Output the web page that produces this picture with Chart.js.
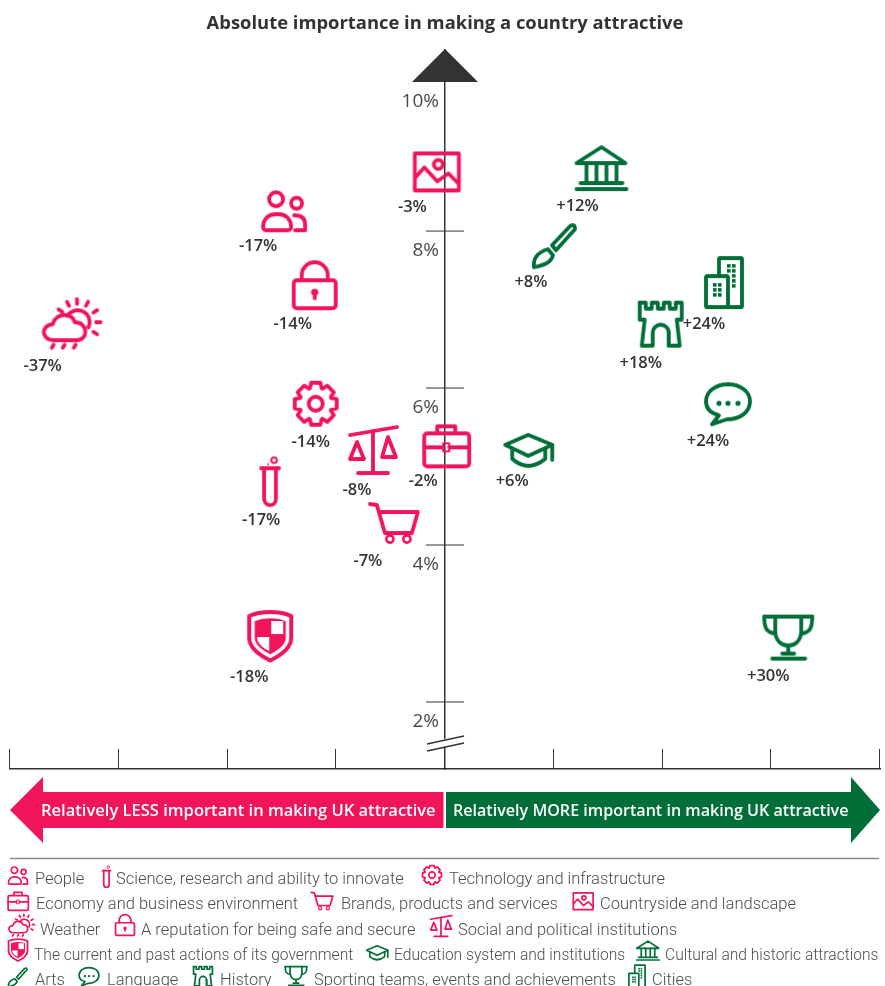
<!DOCTYPE html>
<html>
<head>
<meta charset="utf-8">
<title>Absolute importance in making a country attractive</title>
<script src="https://cdn.jsdelivr.net/npm/chart.js@4"></script>
<style>
    html, body { margin: 0; padding: 0; background: #fff; overflow: hidden; }
    canvas { display: block; }
</style>
</head>
<body>
<canvas id="importance" width="885" height="986"></canvas>
<script>
const categories = [
    'People', 'Science, research and ability to innovate', 'Technology and infrastructure',
    'Economy and business environment', 'Brands, products and services', 'Countryside and landscape',
    'Weather', 'A reputation for being safe and secure', 'Social and political institutions',
    'The current and past actions of its government', 'Education system and institutions', 'Cultural and historic attractions',
    'Arts', 'Language', 'History', 'Sporting teams, events and achievements', 'Cities'
];
const relativeImportance = [-17, -17, -14, -2, -7, -3, -37, -14, -8, -18, 6, 12, 8, 24, 18, 30, 24];
const absoluteImportance = [8.24, 4.80, 5.80, 5.27, 4.28, 8.76, 6.80, 7.31, 5.21, 2.84, 5.20, 8.79, 7.82, 5.78, 6.82, 2.82, 7.35];
const yTicks = [2, 4, 6, 8, 10];
const xTicks = [-40, -30, -20, -10, 0, 10, 20, 30, 40];

// layout only: icon and label offsets from the point, in px
const iconDx = [24, 9, 23, 23, 25, 24, 28, 22, 15, 21, 18, 26, 23, 22, 20, 17, 18];
const labelDx = [-2, 1, 18, 0, -1, 0, 0, 0, -1, 0, 2, 2, -1, 2, 0, -3, -2];
const labelDy = [34, 38, 39, 36, 38, 36, 41, 39, 40, 41, 30, 37, 37, 36, 40, 39, 42];
// legend: [icon x, icon y, text x, text y]
const legendPos = [
    [18, 876, 35, 879], [106, 877, 116, 879], [432, 875, 449, 879],
    [18, 901, 36, 904], [322, 901, 341, 904], [583, 901, 600, 904],
    [21, 926, 40, 930], [125, 925, 141, 930], [441, 926, 458, 930],
    [18, 950, 34, 955], [377, 953, 394, 955], [648, 951, 665, 955],
    [18, 977, 35, 980], [89, 977, 107, 980], [203, 976, 220, 980], [296, 976, 314, 980], [637, 976, 652, 980]
];

const PINK = '#f0145a';
const GREEN = '#006f37';
const DARK = '#333333';

const poly = (c, pts, close) => {
    c.beginPath();
    pts.forEach((p, i) => i ? c.lineTo(p[0], p[1]) : c.moveTo(p[0], p[1]));
    if (close) c.closePath();
    c.stroke();
};
const ring = (c, x, y, r) => { c.beginPath(); c.arc(x, y, r, 0, Math.PI * 2); c.stroke(); };
const dot = (c, x, y, r) => { c.beginPath(); c.arc(x, y, r, 0, Math.PI * 2); c.fill(); };

// one small drawing per category, same order as categories, around 0,0
const icons = [
    // people
    c => {
        ring(c, -8, -13, 7);
        ring(c, 12.5, -9, 5.5);
        c.beginPath(); c.roundRect(-21, 2, 28, 16, [12, 12, 3, 3]); c.stroke();
        c.beginPath(); c.moveTo(10, 3); c.quadraticCurveTo(21, 3, 21, 12); c.lineTo(21, 18); c.lineTo(11, 18); c.stroke();
    },
    // science
    c => {
        poly(c, [[-8, -14], [10, -14]]);
        c.beginPath(); c.moveTo(-5, -14); c.lineTo(-5, 17); c.arc(1, 17, 5.8, Math.PI, 0, true); c.lineTo(6.8, -14); c.stroke();
        c.lineWidth = 2;
        ring(c, 5, -22, 2.8);
        dot(c, -1, -18, 1);
    },
    // technology
    c => {
        c.beginPath();
        for (let i = 0; i < 8; i++) {
            const a = i * Math.PI / 4 - Math.PI / 2;
            const at = (r, d) => [r * Math.cos(a + d), r * Math.sin(a + d)];
            [at(16.5, -0.36), at(21.5, -0.22), at(21.5, 0.22), at(16.5, 0.36)].forEach(p => c.lineTo(p[0], p[1]));
        }
        c.closePath();
        c.stroke();
        ring(c, 0, 0, 7);
    },
    // economy
    c => {
        c.beginPath(); c.roundRect(-22, -12, 45, 33, 3); c.stroke();
        poly(c, [[-9, -13], [-9, -19], [9, -19], [9, -13]]);
        poly(c, [[-22, 2], [-3, 2]]);
        poly(c, [[3, 2], [23, 2]]);
        c.lineWidth = 2;
        c.strokeRect(-3, -2, 6, 8);
    },
    // brands
    c => {
        poly(c, [[-24, -19], [-17, -18], [-9, 10], [18, 10], [24, -11], [-15, -11]]);
        c.lineWidth = 2.6;
        ring(c, -4, 16, 3.6);
        ring(c, 13, 16, 3.6);
    },
    // countryside
    c => {
        c.strokeRect(-21.5, -18, 44, 37);
        ring(c, 2, -7, 4.5);
        poly(c, [[-21, 6], [-12, -4], [1, 10], [12, 2], [22, 12]]);
    },
    // weather
    c => {
        c.beginPath();
        c.moveTo(-16, 15); c.bezierCurveTo(-30, 15, -30, 0, -18, -1);
        c.bezierCurveTo(-15, -13, 2, -13, 4, -3);
        c.bezierCurveTo(18, -3, 18, 15, 6, 15);
        c.closePath();
        c.stroke();
        c.beginPath(); c.arc(7, -3, 12, -2.6, 0.45); c.stroke();
        const rays = [-2.55, -2.05, -1.6, -1.1, -0.55, 0, 0.55];
        rays.forEach(a => poly(c, [[7 + 18.5 * Math.cos(a), -3 + 18.5 * Math.sin(a)], [7 + 23 * Math.cos(a), -3 + 23 * Math.sin(a)]]));
        [-17, -6, 5].forEach(x => poly(c, [[x, 19.5], [x - 1.8, 22.5]]));
    },
    // safe
    c => {
        c.beginPath(); c.roundRect(-21, -5, 42, 28, 3); c.stroke();
        c.beginPath(); c.moveTo(-13, -5); c.lineTo(-13, -10); c.arc(0, -10, 13, Math.PI, 0); c.lineTo(13, -5); c.stroke();
        dot(c, 0, 7, 3.6);
        poly(c, [[0, 8], [0, 13]]);
    },
    // social
    c => {
        poly(c, [[-23, -15], [24, -23]]);
        poly(c, [[0, -19], [0, 23]]);
        poly(c, [[-15, 23], [15, 23]]);
        poly(c, [[-16, -8], [-23, 9], [-9, 9]], true);
        poly(c, [[15, -13], [9, 7], [23, 7]], true);
    },
    // government
    c => {
        const shield = s => {
            c.beginPath();
            c.moveTo(0, -24 * s);
            c.quadraticCurveTo(13 * s, -24 * s, 21 * s, -20 * s);
            c.lineTo(21 * s, 2 * s);
            c.quadraticCurveTo(21 * s, 14 * s, 0, 24.5 * s);
            c.quadraticCurveTo(-21 * s, 14 * s, -21 * s, 2 * s);
            c.lineTo(-21 * s, -20 * s);
            c.quadraticCurveTo(-13 * s, -24 * s, 0, -24 * s);
            c.closePath();
        };
        c.lineWidth = 4;
        shield(1); c.stroke();
        shield(0.74); c.fill();
        c.save();
        c.fillStyle = '#fff';
        c.fillRect(1, -15, 12, 13);
        c.beginPath(); c.moveTo(-13, 1); c.lineTo(-1, 1); c.lineTo(-1, 15); c.quadraticCurveTo(-10, 11, -13, 4); c.closePath(); c.fill();
        c.restore();
    },
    // education
    c => {
        poly(c, [[-23, -6], [0, -16], [24, -6], [0, 5]], true);
        c.beginPath(); c.moveTo(-16, -2); c.lineTo(-16, 8); c.quadraticCurveTo(0, 22, 17, 8); c.lineTo(17, -2); c.stroke();
        poly(c, [[24, -6], [24, 9]]);
    },
    // cultural
    c => {
        poly(c, [[-25, -6], [0, -22], [24, -6]], true);
        [-15, -5, 5, 15].forEach(x => poly(c, [[x, -6], [x, 12]]));
        poly(c, [[-21, 14], [21, 14]]);
        poly(c, [[-25, 20], [25, 20]]);
    },
    // arts
    c => {
        c.beginPath();
        c.moveTo(-3, 0); c.lineTo(15, -19); c.quadraticCurveTo(20, -22, 20, -16); c.lineTo(1, 5); c.closePath();
        c.stroke();
        c.beginPath();
        c.moveTo(-7, 4); c.bezierCurveTo(-18, 7, -22, 14, -21, 22); c.bezierCurveTo(-12, 20, -4, 18, -2, 10); c.closePath();
        c.stroke();
    },
    // language
    c => {
        c.beginPath();
        c.moveTo(-9, 10); c.lineTo(-16, 19); c.lineTo(-1, 14);
        c.bezierCurveTo(12, 14, 22, 7, 22, -4);
        c.bezierCurveTo(22, -14, 12, -21, 0, -21);
        c.bezierCurveTo(-12, -21, -22, -14, -22, -4);
        c.bezierCurveTo(-22, 3, -17, 8, -9, 10);
        c.closePath();
        c.stroke();
        [-9, 0, 10].forEach(x => dot(c, x, -2, 2.6));
    },
    // history
    c => {
        poly(c, [
            [-21, -21], [-15, -21], [-15, -15], [-9, -15], [-9, -21], [-3, -21], [-3, -15], [3, -15], [3, -21],
            [9, -21], [9, -15], [15, -15], [15, -21], [21, -21], [21, -4], [16, -4], [19, 22], [8, 22], [8, 8]
        ]);
        c.beginPath(); c.moveTo(8, 22); c.lineTo(8, 9); c.arc(0, 9, 8, 0, Math.PI, true); c.lineTo(-8, 22); c.lineTo(-19, 22); c.lineTo(-16, -4); c.lineTo(-21, -4); c.lineTo(-21, -21); c.stroke();
    },
    // sporting
    c => {
        poly(c, [[-24, -21], [24, -21]]);
        c.beginPath(); c.moveTo(-13, -21); c.lineTo(-13, -7); c.bezierCurveTo(-13, 4, -6, 8, 0, 8); c.bezierCurveTo(6, 8, 13, 4, 13, -7); c.lineTo(13, -21); c.stroke();
        c.beginPath(); c.moveTo(-24, -21); c.bezierCurveTo(-24, -10, -22, -5, -13, -4); c.stroke();
        c.beginPath(); c.moveTo(24, -21); c.bezierCurveTo(24, -10, 22, -5, 13, -4); c.stroke();
        poly(c, [[0, 8], [0, 16]]);
        poly(c, [[-6, 16], [6, 16]]);
        poly(c, [[-16, 21], [17, 21]]);
    },
    // cities
    c => {
        c.beginPath(); c.roundRect(-5, -24, 23, 49, 1); c.stroke();
        c.beginPath(); c.roundRect(-18, -6, 22, 31, 1); c.fillStyle = '#fff'; c.fill(); c.stroke();
        c.fillStyle = GREEN;
        for (let r = 0; r < 3; r++) {
            for (let k = 0; k < 2; k++) c.fillRect(-11 + k * 5, 1 + r * 5, 3.6, 3.6);
        }
        for (let r = 0; r < 5; r++) {
            c.fillRect(8, -18 + r * 5, 3.6, 3.6);
            if (r < 2) c.fillRect(3, -18 + r * 5, 3.6, 3.6);
        }
    }
];

const colorOf = i => relativeImportance[i] < 0 ? PINK : GREEN;

const drawIcon = (c, i, x, y, s) => {
    c.save();
    c.translate(x, y);
    c.scale(s, s);
    c.strokeStyle = colorOf(i);
    c.fillStyle = colorOf(i);
    c.lineWidth = 3.8;
    c.lineCap = 'round';
    c.lineJoin = 'round';
    icons[i](c);
    c.restore();
};

// canvas point style, icon moved off the centre by its offset
const pointImages = categories.map((name, i) => {
    const img = document.createElement('canvas');
    img.width = 200;
    img.height = 200;
    drawIcon(img.getContext('2d'), i, 100 + iconDx[i], 100, 1);
    return img;
});

const decorations = {
    id: 'decorations',
    afterDraw(chart) {
        const { ctx, scales } = chart;
        const { x, y } = scales;
        const cx = x.getPixelForValue(0);
        const base = y.bottom;
        ctx.save();

        // cross bars and y labels
        ctx.strokeStyle = DARK;
        ctx.lineWidth = 1;
        ctx.fillStyle = '#4a4a4a';
        ctx.font = '19px "Open Sans"';
        ctx.textAlign = 'right';
        ctx.textBaseline = 'middle';
        y.ticks.forEach(t => {
            const py = y.getPixelForValue(t.value);
            if (t.value !== 10) poly(ctx, [[cx - 19, py], [cx + 19, py]]);
            ctx.fillText(t.value + '%', cx - 6, py + (t.value === 10 ? 27 : 20));
        });

        // arrow on top of the value axis
        ctx.fillStyle = DARK;
        ctx.beginPath();
        ctx.moveTo(cx, 49); ctx.lineTo(cx + 33, 82); ctx.lineTo(cx - 33, 82);
        ctx.closePath();
        ctx.fill();

        // axis break
        ctx.fillStyle = '#fff';
        ctx.fillRect(cx - 3, 739, 6, 8);
        ctx.strokeStyle = DARK;
        ctx.lineWidth = 1.4;
        poly(ctx, [[cx - 18, 744], [cx + 19, 736]]);
        poly(ctx, [[cx - 18, 751], [cx + 19, 743]]);

        // upward ticks on the bottom axis
        ctx.lineWidth = 1;
        x.ticks.forEach(t => {
            const px = Math.round(x.getPixelForValue(t.value)) - 0.5;
            poly(ctx, [[px, base - 20], [px, base]]);
        });

        // the two big arrows
        ctx.fillStyle = PINK;
        ctx.beginPath();
        ctx.moveTo(10, 810); ctx.lineTo(43, 777); ctx.lineTo(43, 792); ctx.lineTo(443.5, 792);
        ctx.lineTo(443.5, 828); ctx.lineTo(43, 828); ctx.lineTo(43, 843);
        ctx.closePath();
        ctx.fill();
        ctx.fillStyle = GREEN;
        ctx.beginPath();
        ctx.moveTo(880, 810); ctx.lineTo(851, 777); ctx.lineTo(851, 792); ctx.lineTo(446, 792);
        ctx.lineTo(446, 828); ctx.lineTo(851, 828); ctx.lineTo(851, 843);
        ctx.closePath();
        ctx.fill();
        ctx.fillStyle = '#fff';
        ctx.textAlign = 'left';
        ctx.font = '600 16.55px "Open Sans"';
        ctx.fillText('Relatively LESS important in making UK attractive', 41, 811);
        ctx.font = '600 16.1px "Open Sans"';
        ctx.fillText('Relatively MORE important in making UK attractive', 453, 811);

        // value labels
        const meta = chart.getDatasetMeta(0);
        ctx.fillStyle = DARK;
        ctx.font = '600 16.5px "Open Sans"';
        ctx.textAlign = 'center';
        relativeImportance.forEach((v, i) => {
            const p = meta.data[i];
            ctx.fillText((v > 0 ? '+' : '') + v + '%', p.x + labelDx[i], p.y + labelDy[i]);
        });

        // legend
        ctx.strokeStyle = '#8a8a8a';
        ctx.lineWidth = 1.5;
        poly(ctx, [[10, 858.5], [879, 858.5]]);
        ctx.fillStyle = '#4d4d4d';
        ctx.textAlign = 'left';
        categories.forEach((name, i) => {
            const l = legendPos[i];
            drawIcon(ctx, i, l[0], l[1], 0.45);
            ctx.font = (i >= 9 && i <= 11) ? '300 15.6px Roboto' : '300 16.5px Roboto';
            ctx.fillText(name, l[2], l[3] + 1);
        });
        ctx.restore();
    }
};

new Chart(document.getElementById('importance').getContext('2d'), {
    type: 'scatter',
    data: {
        datasets: [{
            data: relativeImportance.map((v, i) => ({ x: v, y: absoluteImportance[i] })),
            pointStyle: pointImages,
            pointRadius: 10,
            clip: false
        }]
    },
    plugins: [decorations],
    options: {
        responsive: false,
        animation: false,
        layout: { autoPadding: false, padding: { left: 10, right: 5, top: 10, bottom: 217 } },
        plugins: {
            legend: { display: false },
            tooltip: { enabled: false },
            title: {
                display: true,
                text: 'Absolute importance in making a country attractive',
                color: DARK,
                font: { family: '"Open Sans"', size: 18.4, weight: '700', lineHeight: 1.2 },
                padding: { top: 3, bottom: 15 }
            }
        },
        scales: {
            x: {
                type: 'linear',
                min: -40,
                max: 40,
                afterBuildTicks: s => { s.ticks = xTicks.map(v => ({ value: v })); },
                ticks: { display: false },
                grid: { display: false, drawTicks: false },
                border: { color: DARK, width: 1.5 }
            },
            y: {
                type: 'linear',
                position: { x: 0 },
                min: 1.146,
                max: 10.306,
                afterBuildTicks: s => { s.ticks = yTicks.map(v => ({ value: v })); },
                ticks: { display: false },
                grid: { display: false, drawTicks: false },
                border: { color: DARK, width: 1.5 }
            }
        }
    }
});
</script>
</body>
</html>
